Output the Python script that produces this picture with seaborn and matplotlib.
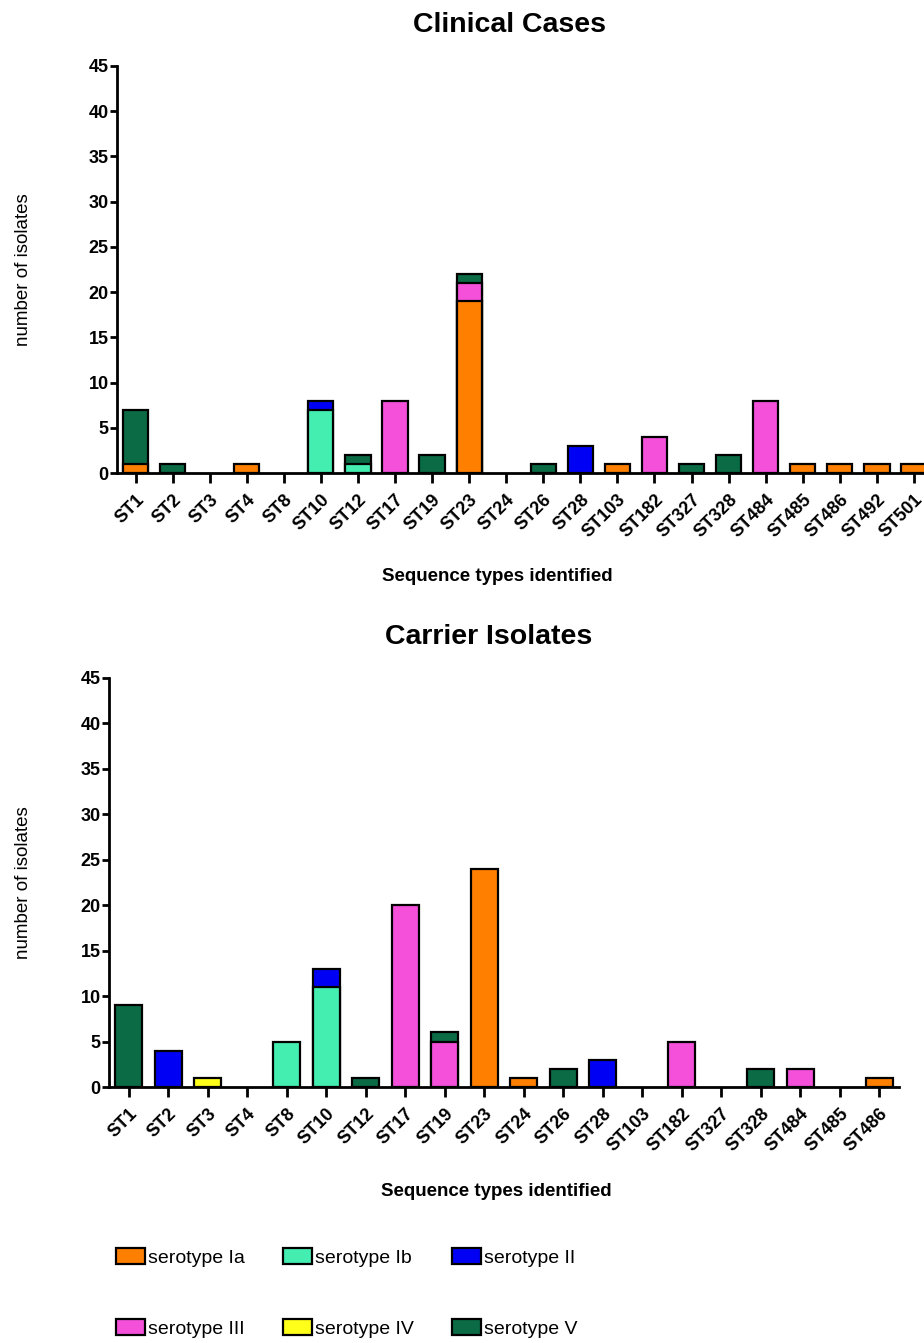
import numpy as np
import pandas as pd
import matplotlib
matplotlib.use("Agg")
import matplotlib.pyplot as plt
from matplotlib.patches import Patch
import seaborn as sns

# ---------------- data ----------------
serotypes = ["Ia", "Ib", "II", "III", "IV", "V"]
sero_colors = ["#FF8000", "#44EEB0", "#0000F5", "#F550DA", "#FFFF1A", "#0B6B45"]

clinical_st = ["ST1", "ST2", "ST3", "ST4", "ST8", "ST10", "ST12", "ST17", "ST19",
               "ST23", "ST24", "ST26", "ST28", "ST103", "ST182", "ST327", "ST328",
               "ST484", "ST485", "ST486", "ST492", "ST501"]
clinical_Ia  = [1, 0, 0, 1, 0, 0, 0, 0, 0, 19, 0, 0, 0, 1, 0, 0, 0, 0, 1, 1, 1, 1]
clinical_Ib  = [0, 0, 0, 0, 0, 7, 1, 0, 0, 0, 0, 0, 0, 0, 0, 0, 0, 0, 0, 0, 0, 0]
clinical_II  = [0, 0, 0, 0, 0, 1, 0, 0, 0, 0, 0, 0, 3, 0, 0, 0, 0, 0, 0, 0, 0, 0]
clinical_III = [0, 0, 0, 0, 0, 0, 0, 8, 0, 2, 0, 0, 0, 0, 4, 0, 0, 8, 0, 0, 0, 0]
clinical_IV  = [0, 0, 0, 0, 0, 0, 0, 0, 0, 0, 0, 0, 0, 0, 0, 0, 0, 0, 0, 0, 0, 0]
clinical_V   = [6, 1, 0, 0, 0, 0, 1, 0, 2, 1, 0, 1, 0, 0, 0, 1, 2, 0, 0, 0, 0, 0]

carrier_st = ["ST1", "ST2", "ST3", "ST4", "ST8", "ST10", "ST12", "ST17", "ST19",
              "ST23", "ST24", "ST26", "ST28", "ST103", "ST182", "ST327", "ST328",
              "ST484", "ST485", "ST486"]
carrier_Ia  = [0, 0, 0, 0, 0, 0, 0, 0, 0, 24, 1, 0, 0, 0, 0, 0, 0, 0, 0, 1]
carrier_Ib  = [0, 0, 0, 0, 5, 11, 0, 0, 0, 0, 0, 0, 0, 0, 0, 0, 0, 0, 0, 0]
carrier_II  = [0, 4, 0, 0, 0, 2, 0, 0, 0, 0, 0, 0, 3, 0, 0, 0, 0, 0, 0, 0]
carrier_III = [0, 0, 0, 0, 0, 0, 0, 20, 5, 0, 0, 0, 0, 0, 5, 0, 0, 2, 0, 0]
carrier_IV  = [0, 0, 1, 0, 0, 0, 0, 0, 0, 0, 0, 0, 0, 0, 0, 0, 0, 0, 0, 0]
carrier_V   = [9, 0, 0, 0, 0, 0, 1, 0, 1, 0, 0, 2, 0, 0, 0, 0, 2, 0, 0, 0]

y_ticks = [0, 5, 10, 15, 20, 25, 30, 35, 40, 45]


def stacked_long(st, layers):
    """Long table with cumulative heights for every positive segment."""
    rows = []
    arr = np.array(layers)
    cum = np.cumsum(arr, axis=0)
    for k, s in enumerate(serotypes):
        for i, name in enumerate(st):
            if arr[k, i] > 0:
                rows.append({"ST": name, "serotype": s, "cum": cum[k, i]})
    return pd.DataFrame(rows)


clin_df = stacked_long(clinical_st, [clinical_Ia, clinical_Ib, clinical_II,
                                     clinical_III, clinical_IV, clinical_V])
carr_df = stacked_long(carrier_st, [carrier_Ia, carrier_Ib, carrier_II,
                                    carrier_III, carrier_IV, carrier_V])

# ---------------- style ----------------
sns.set_style("ticks")
plt.rcParams["font.family"] = ["Liberation Sans", "DejaVu Sans"]
plt.rcParams["text.color"] = "black"
plt.rcParams["axes.labelcolor"] = "black"
plt.rcParams["xtick.color"] = "black"
plt.rcParams["ytick.color"] = "black"

W, H = 924, 1343
fig = plt.figure(figsize=(W / 100, H / 100), dpi=100)

palette = dict(zip(serotypes, sero_colors))
draw_order = serotypes[::-1]  # top of stack first, lower layers overlay


def panel(rect, df, st, title, title_x, xlabel_x):
    ax = fig.add_axes(rect)
    sns.barplot(data=df, x="ST", y="cum", hue="serotype", order=st,
                hue_order=draw_order, palette=palette, dodge=False,
                saturation=1, width=0.68, edgecolor="black", linewidth=1.6,
                errorbar=None, legend=False, ax=ax)
    ax.set_xlim(-0.5, len(st) - 0.5)
    ax.set_ylim(0, 45)
    ax.set_yticks(y_ticks)
    sns.despine(ax=ax)
    for sp in ("left", "bottom"):
        ax.spines[sp].set_linewidth(2.0)
        ax.spines[sp].set_color("black")
    ax.tick_params(axis="both", which="major", width=2.0, length=5,
                   color="black", labelcolor="black", labelsize=13)
    ax.tick_params(axis="y", pad=1)
    ax.tick_params(axis="x", length=7, pad=6)
    for lab in ax.get_yticklabels():
        lab.set_fontweight("bold")
    ax.set_xticks(range(len(st)))
    ax.set_xticklabels(st, rotation=45, ha="right", va="top",
                       rotation_mode="anchor", fontweight="bold", fontsize=13)
    ax.set_title(title, fontsize=20.5, fontweight="bold", x=title_x, y=1.10,
                 va="center", pad=0, color="black")
    ax.set_xlabel("Sequence types identified", fontsize=13.5, fontweight="bold")
    ax.xaxis.set_label_coords(xlabel_x, -0.255)
    ax.xaxis.label.set_verticalalignment("center")
    ax.set_ylabel("number of isolates", fontsize=13.5)
    ax.yaxis.label.set_verticalalignment("center")
    return ax


# top panel (axes extends a little past the right edge, as in the original)
ax1 = panel([117 / W, 1 - 473 / H, (932.5 - 117) / W, (473 - 66) / H],
            clin_df, clinical_st, "Clinical Cases", 0.481, 0.466)
ax1.yaxis.set_label_coords(-(117 - 24) / (932.5 - 117), 0.5)

ax2 = panel([109 / W, 1 - 1087 / H, (899 - 109) / W, (1087 - 678) / H],
            carr_df, carrier_st, "Carrier Isolates", 0.481, 0.49)
ax2.yaxis.set_label_coords(-(109 - 24) / (899 - 109), 0.5)

# legend (row-major order: Ia Ib II / III IV V)
handles = [Patch(facecolor=c, edgecolor="black", linewidth=1.6, label=f"serotype {s}")
           for s, c in zip(serotypes, sero_colors)]
order = [0, 3, 1, 4, 2, 5]
fig.legend([handles[i] for i in order], [handles[i].get_label() for i in order],
           ncol=3, loc="center left", bbox_to_anchor=(116 / W, 50 / H),
           frameon=False, fontsize=14, handlelength=1.5, handleheight=0.9,
           handletextpad=0.15, columnspacing=1.95, labelspacing=2.7,
           borderpad=0, borderaxespad=0)

fig.savefig("out.png", dpi=100)
